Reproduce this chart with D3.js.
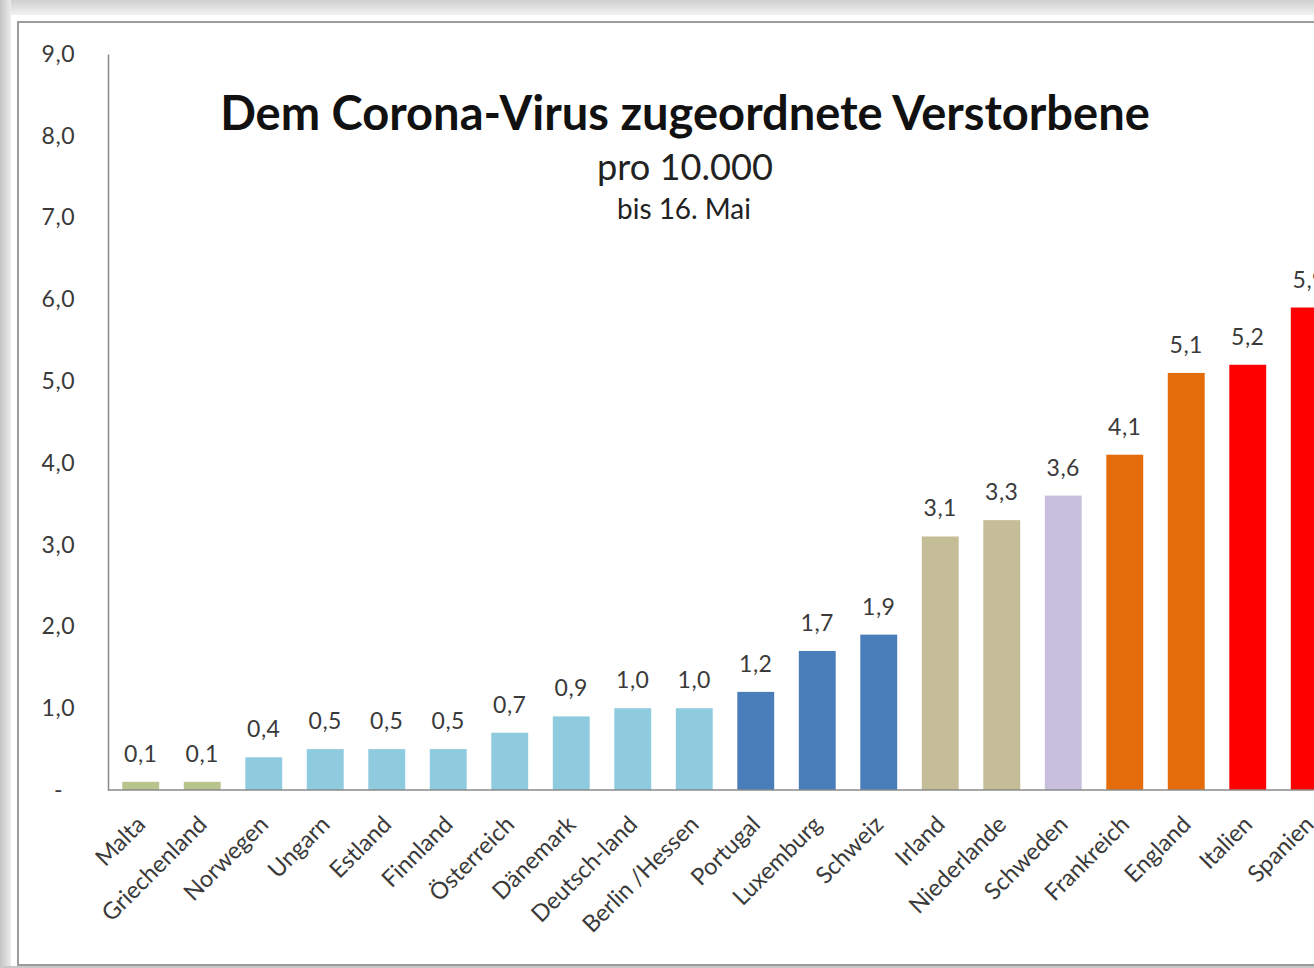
<!DOCTYPE html>
<html>
<head>
<meta charset="utf-8">
<script src="https://cdn.jsdelivr.net/npm/d3@7"></script>
<style>
  html, body { margin: 0; padding: 0; background: #fff; overflow: hidden; }
  svg { display: block; font-family: Lato, "Open Sans", sans-serif; }
</style>
</head>
<body>
<svg id="chart" width="1314" height="968"></svg>
<script>
// Deaths attributed to the coronavirus per 10,000 inhabitants, up to 16 May
const countries = ["Malta", "Griechenland", "Norwegen", "Ungarn", "Estland", "Finnland",
  "Österreich", "Dänemark", "Deutsch-land", "Berlin /Hessen", "Portugal", "Luxemburg",
  "Schweiz", "Irland", "Niederlande", "Schweden", "Frankreich", "England", "Italien", "Spanien"];
const deaths = [0.1, 0.1, 0.4, 0.5, 0.5, 0.5, 0.7, 0.9, 1.0, 1.0, 1.2, 1.7, 1.9,
  3.1, 3.3, 3.6, 4.1, 5.1, 5.2, 5.9];
const groups = ["g", "g", "lb", "lb", "lb", "lb", "lb", "lb", "lb", "lb", "db", "db", "db",
  "tan", "tan", "lav", "or", "or", "red", "red"];
const yTicks = [0, 1, 2, 3, 4, 5, 6, 7, 8, 9];
const titleText = "Dem Corona-Virus zugeordnete Verstorbene";
const subtitleText = "pro 10.000";
const dateText = "bis 16. Mai";

const groupColor = {
  g: "#b8c48e", lb: "#8fcbde", db: "#4a7ebb", tan: "#c4bd97",
  lav: "#c7bfdc", or: "#e46c0a", red: "#ff0000"
};

const svg = d3.select("#chart");
const W = 1314, H = 968;

// window frame around the chart area
const defs = svg.append("defs");
const gTop = defs.append("linearGradient").attr("id", "gtop").attr("x1", 0).attr("y1", 0).attr("x2", 0).attr("y2", 1);
gTop.append("stop").attr("offset", "0%").attr("stop-color", "#cfcfcf");
gTop.append("stop").attr("offset", "100%").attr("stop-color", "#f2f2f2");
const gLeft = defs.append("linearGradient").attr("id", "gleft").attr("x1", 0).attr("y1", 0).attr("x2", 1).attr("y2", 0);
gLeft.append("stop").attr("offset", "0%").attr("stop-color", "#c4c4c4");
gLeft.append("stop").attr("offset", "100%").attr("stop-color", "#ececec");

svg.append("rect").attr("x", 0).attr("y", 0).attr("width", W).attr("height", 15).attr("fill", "url(#gtop)");
svg.append("rect").attr("x", 0).attr("y", 0).attr("width", 11).attr("height", H).attr("fill", "url(#gleft)");
svg.append("rect").attr("x", 0).attr("y", 966).attr("width", W).attr("height", 2).attr("fill", "#c8c8c8");
svg.append("rect").attr("x", 18).attr("y", 22).attr("width", W + 40).attr("height", 943)
  .attr("fill", "#fff").attr("stroke", "#9c9c9c").attr("stroke-width", 2);

// scales
const y = d3.scaleLinear().domain([0, 9]).range([790, 54]);
const x = d3.scaleBand().domain(countries).range([110, 110 + countries.length * 61.5])
  .paddingInner(0.4).paddingOuter(0.2);

// y axis
const yAxis = d3.axisLeft(y).tickValues(yTicks).tickSize(0).tickPadding(0)
  .tickFormat(d => d === 0 ? "-" : d3.format(".1f")(d).replace(".", ","));
const yg = svg.append("g").attr("transform", "translate(108,0)").call(yAxis);
yg.select(".domain").attr("stroke", "#8a8a8a").attr("stroke-width", 1.5);
yg.selectAll(".tick text").attr("x", -33).attr("fill", "#3a3a3a")
  .style("font-size", "23px").style("letter-spacing", "0.5px")
  .style("font-family", "Lato, 'Open Sans', sans-serif");
yg.selectAll(".tick text").filter(d => d === 0).attr("x", -45);

// bars
svg.append("g").selectAll("rect").data(countries).join("rect")
  .attr("x", d => x(d))
  .attr("y", (d, i) => y(deaths[i]))
  .attr("width", x.bandwidth())
  .attr("height", (d, i) => y(0) - y(deaths[i]))
  .attr("fill", (d, i) => groupColor[groups[i]]);

// x axis baseline
svg.append("line").attr("x1", 108).attr("x2", W + 40).attr("y1", y(0)).attr("y2", y(0))
  .attr("stroke", "#8a8a8a").attr("stroke-width", 1.5);

// value labels
svg.append("g").selectAll("text").data(countries).join("text")
  .attr("x", d => x(d) + x.bandwidth() / 2)
  .attr("y", (d, i) => y(deaths[i]) - 20)
  .attr("text-anchor", "middle")
  .attr("fill", "#3a3a3a")
  .style("font-size", "23px")
  .style("letter-spacing", "0.5px")
  .text((d, i) => d3.format(".1f")(deaths[i]).replace(".", ","));

// category labels, rotated
svg.append("g").selectAll("text").data(countries).join("text")
  .attr("transform", d => `translate(${x(d) + x.bandwidth() / 2 + 6},${y(0) + 36}) rotate(-45)`)
  .attr("text-anchor", "end")
  .attr("fill", "#3a3a3a")
  .style("font-size", "23.5px")
  .text(d => d);

// titles
function fit(sel, target) {
  const w = sel.node().getComputedTextLength();
  const fs = parseFloat(sel.style("font-size"));
  sel.style("font-size", (fs * target / w) + "px");
}
const t1 = svg.append("text").attr("x", 685).attr("y", 130).attr("text-anchor", "middle")
  .attr("fill", "#111").style("font-weight", "bold").style("font-size", "40px").text(titleText);
fit(t1, 930);
const t2 = svg.append("text").attr("x", 685).attr("y", 180).attr("text-anchor", "middle")
  .attr("fill", "#222").style("font-size", "32px").text(subtitleText);
fit(t2, 176);
const t3 = svg.append("text").attr("x", 684).attr("y", 219).attr("text-anchor", "middle")
  .attr("fill", "#222").style("font-size", "24px").text(dateText);
fit(t3, 134);
</script>
</body>
</html>
